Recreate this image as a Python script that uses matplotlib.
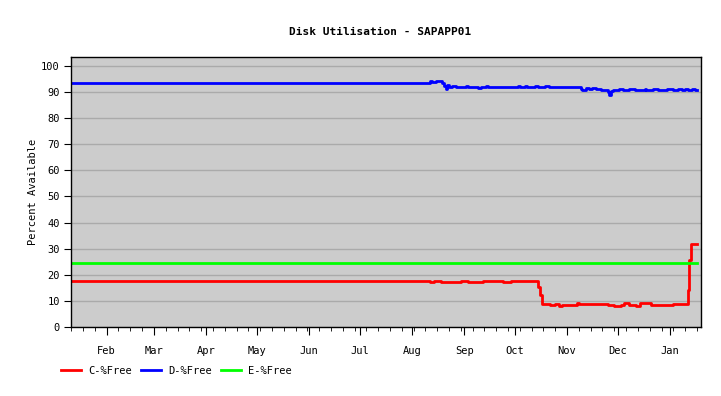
import numpy as np
import pandas as pd
import matplotlib
matplotlib.use('Agg')
import matplotlib.pyplot as plt
import matplotlib.dates as mdates

# C: drive %free (change points)
c_dates = ['2009-01-11', '2009-08-12', '2009-08-14', '2009-08-18', '2009-08-30',
           '2009-09-03', '2009-09-12', '2009-09-24', '2009-09-29', '2009-10-15',
           '2009-10-16', '2009-10-17', '2009-10-22', '2009-10-25', '2009-10-27',
           '2009-10-29', '2009-11-04', '2009-11-07', '2009-11-08', '2009-11-11',
           '2009-11-25', '2009-11-29', '2009-12-03', '2009-12-05', '2009-12-08',
           '2009-12-12', '2009-12-14', '2009-12-21', '2010-01-03', '2010-01-12',
           '2010-01-12 12:00', '2010-01-13 06:00', '2010-01-17']
c_free = [17.5, 17.1, 17.5, 17.2, 17.5,
          17.2, 17.5, 17.1, 17.5, 15.4,
          12.3, 8.7, 8.6, 8.7, 8.1,
          8.6, 8.3, 9.2, 8.7, 8.8,
          8.5, 8.2, 8.5, 9.2, 8.5,
          8.1, 9.2, 8.5, 8.7, 14.2,
          25.7, 31.8, 31.8]

# D: drive %free (change points)
d_dates = ['2009-01-11', '2009-08-12', '2009-08-13', '2009-08-15', '2009-08-18',
           '2009-08-19', '2009-08-20', '2009-08-21', '2009-08-22', '2009-08-23',
           '2009-08-25', '2009-08-27', '2009-08-29', '2009-08-31', '2009-09-02',
           '2009-09-03', '2009-09-07', '2009-09-09', '2009-09-11', '2009-09-14',
           '2009-09-15', '2009-09-25', '2009-09-27', '2009-09-28', '2009-10-03',
           '2009-10-04', '2009-10-07', '2009-10-08', '2009-10-10', '2009-10-13',
           '2009-10-15', '2009-10-17', '2009-10-19', '2009-10-21', '2009-10-23',
           '2009-10-26', '2009-10-28', '2009-10-30', '2009-11-09', '2009-11-10',
           '2009-11-12', '2009-11-14', '2009-11-16', '2009-11-18', '2009-11-21',
           '2009-11-23', '2009-11-25', '2009-11-26', '2009-11-27', '2009-11-28',
           '2009-12-02', '2009-12-04', '2009-12-08', '2009-12-11', '2009-12-17',
           '2009-12-18', '2009-12-22', '2009-12-25', '2009-12-30', '2010-01-03',
           '2010-01-06', '2010-01-08', '2010-01-10', '2010-01-12', '2010-01-14',
           '2010-01-16', '2010-01-17']
d_free = [93.5, 94.1, 93.8, 94.1, 94.3,
          93.4, 92.4, 91.3, 92.5, 91.9,
          92.2, 91.8, 92.1, 91.9, 92.2,
          92.0, 92.1, 91.7, 92.0, 92.3,
          92.0, 92.1, 91.8, 92.1, 92.3,
          91.9, 92.2, 91.8, 92.1, 92.2,
          91.8, 92.0, 92.2, 91.9, 92.0,
          91.8, 92.1, 91.9, 91.2, 90.6,
          91.6, 91.3, 91.6, 91.2, 90.9,
          90.6, 89.9, 88.9, 90.3, 90.9,
          91.1, 90.8, 91.1, 90.8, 91.0,
          90.8, 91.0, 90.8, 91.1, 90.8,
          91.1, 90.8, 91.1, 90.8, 91.2,
          90.8, 90.8]

# E: drive %free
e_dates = ['2009-01-11', '2010-01-17']
e_free = [24.6, 24.6]

series = [
    ('C-%Free', c_dates, c_free, '#ff0000'),
    ('D-%Free', d_dates, d_free, '#0000ff'),
    ('E-%Free', e_dates, e_free, '#00ff00'),
]

plt.rcParams['font.family'] = ['DejaVu Sans Mono']
plt.rcParams['font.size'] = 7.5

fig = plt.figure(figsize=(7.21, 3.96), dpi=100)
ax = fig.add_axes([71/721, 1 - 327/396, 630/721, 270/396])
ax.set_facecolor('#cccccc')

for name, dates, vals, col in series:
    ax.plot(pd.to_datetime(dates, format='mixed'), vals, color=col, lw=2.0,
            drawstyle='steps-post', label=name)

ax.set_xlim(pd.Timestamp('2009-01-10 20:00'), pd.Timestamp('2010-01-19 10:00'))
ax.set_ylim(0, 103.4)
ax.set_yticks(np.arange(0, 101, 10))
ax.yaxis.grid(True, color='#aaaaaa', lw=1)
ax.set_axisbelow(True)

ax.xaxis.set_major_locator(mdates.MonthLocator())
ax.xaxis.set_major_formatter(mdates.DateFormatter('%b'))
ax.xaxis.set_minor_locator(mdates.WeekdayLocator(byweekday=mdates.SU))
ax.tick_params(axis='x', which='major', length=6, pad=8, direction='out')
ax.tick_params(axis='x', which='minor', length=3, direction='out')
ax.tick_params(axis='y', length=5, pad=3)
for s in ax.spines.values():
    s.set_color('black')
    s.set_linewidth(1)

ax.set_ylabel('Percent Available', labelpad=2)
fig.text(380/721, 1 - 32/396, 'Disk Utilisation - SAPAPP01', ha='center',
         va='center', fontweight='bold', fontsize=8)

fig.legend(loc='center left', bbox_to_anchor=(52/721, 1 - 371/396), ncol=3,
           frameon=False, handlelength=1.9, columnspacing=0.85, handletextpad=0.7)

fig.savefig('out.png', dpi=100)
